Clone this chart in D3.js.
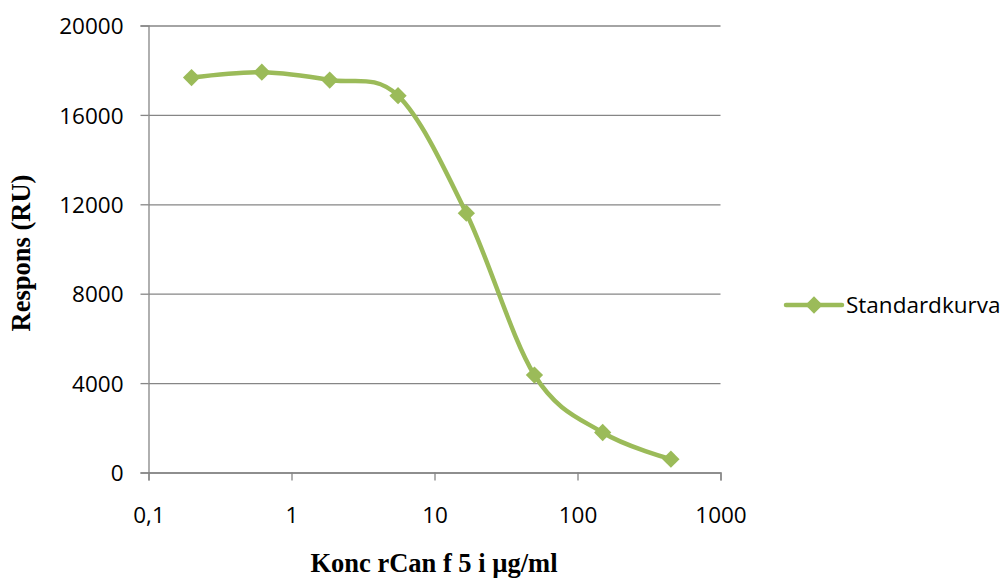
<!DOCTYPE html>
<html>
<head>
<meta charset="utf-8">
<script src="https://cdn.jsdelivr.net/npm/d3@7"></script>
<style>
  html, body { margin: 0; padding: 0; background: #fff; }
  svg { display: block; }
</style>
</head>
<body>
<svg id="chart" width="1006" height="578"></svg>
<script>
// Standard curve: concentration (µg/ml) vs response (RU)
const concentrations = [0.2, 0.62, 1.85, 5.56, 16.7, 50, 150, 450];
const responses = [17670, 17910, 17560, 16860, 11600, 4360, 1790, 595];
const yTicks = [0, 4000, 8000, 12000, 16000, 20000];
const xTicks = [0.1, 1, 10, 100, 1000];
const xTickLabels = ["0,1", "1", "10", "100", "1000"];
const seriesName = "Standardkurva";

const svg = d3.select("#chart");
const plot = { left: 148.5, right: 720.5, top: 25.5, bottom: 472.5 };
const green = "#9BBB59";
const gridColor = "#868686";
const tickFont = "'Open Sans', 'Liberation Sans', sans-serif";
const titleFont = "'Liberation Serif', 'Times New Roman', serif";

const x = d3.scaleLog().domain([0.1, 1000]).range([plot.left, plot.right]);
const y = d3.scaleLinear().domain([0, 20000]).range([plot.bottom, plot.top]);

// Horizontal gridlines with left tick stubs
const yAxis = d3.axisLeft(y).tickValues(yTicks).tickSize(8).tickFormat(d3.format("d"));
const gy = svg.append("g").attr("transform", `translate(${plot.left},0)`).call(yAxis);
gy.select(".domain").attr("stroke", gridColor).attr("stroke-width", 1.3);
gy.selectAll(".tick line").attr("stroke", gridColor).attr("stroke-width", 1.3);
gy.selectAll(".tick text")
  .attr("x", -25)
  .attr("dy", "0.36em")
  .attr("fill", "#000")
  .style("font-family", tickFont)
  .style("font-size", "22.5px");
gy.selectAll(".tick").append("line")
  .attr("x1", 0).attr("x2", plot.right - plot.left)
  .attr("stroke", gridColor).attr("stroke-width", 1.3);

// Log x axis at the bottom
const xAxis = d3.axisBottom(x).tickValues(xTicks).tickSize(8)
  .tickFormat((d, i) => xTickLabels[i]);
const gx = svg.append("g").attr("transform", `translate(0,${plot.bottom})`).call(xAxis);
gx.select(".domain").attr("stroke", gridColor).attr("stroke-width", 1.3);
gx.selectAll(".tick line").attr("stroke", gridColor).attr("stroke-width", 1.3);
gx.selectAll(".tick text")
  .attr("y", 35)
  .attr("fill", "#000")
  .style("font-family", tickFont)
  .style("font-size", "22.5px");

// Smoothed series line
const points = concentrations.map((c, i) => [c, responses[i]]);
const line = d3.line()
  .x(d => x(d[0]))
  .y(d => y(d[1]))
  .curve(d3.curveCardinal.tension(0));
svg.append("path")
  .datum(points)
  .attr("d", line)
  .attr("fill", "none")
  .attr("stroke", green)
  .attr("stroke-width", 4.5)
  .attr("stroke-linejoin", "round");

// Diamond markers
const diamond = d3.symbol().type(d3.symbolDiamond2).size(190);
svg.append("g").selectAll("path")
  .data(points)
  .join("path")
  .attr("transform", d => `translate(${x(d[0])},${y(d[1])})`)
  .attr("d", diamond)
  .attr("fill", green);

// Legend
const lg = svg.append("g").attr("transform", "translate(786,305)");
lg.append("line").attr("x1", 0).attr("x2", 56).attr("y1", 0).attr("y2", 0)
  .attr("stroke", green).attr("stroke-width", 4.5).attr("stroke-linecap", "round");
lg.append("path").attr("transform", "translate(28,0)").attr("d", diamond).attr("fill", green);
lg.append("text").attr("x", 60).attr("y", 0).attr("dy", "0.35em")
  .style("font-family", tickFont).style("font-size", "22.5px").attr("fill", "#000")
  .text(seriesName);

// Axis titles
svg.append("text")
  .attr("x", 434).attr("y", 572)
  .attr("text-anchor", "middle")
  .style("font-family", titleFont).style("font-size", "26.5px").style("font-weight", "bold")
  .text("Konc rCan f 5 i µg/ml");
svg.append("text")
  .attr("transform", "translate(30,253) rotate(-90)")
  .attr("text-anchor", "middle")
  .style("font-family", titleFont).style("font-size", "26.5px").style("font-weight", "bold")
  .text("Respons (RU)");
</script>
</body>
</html>
